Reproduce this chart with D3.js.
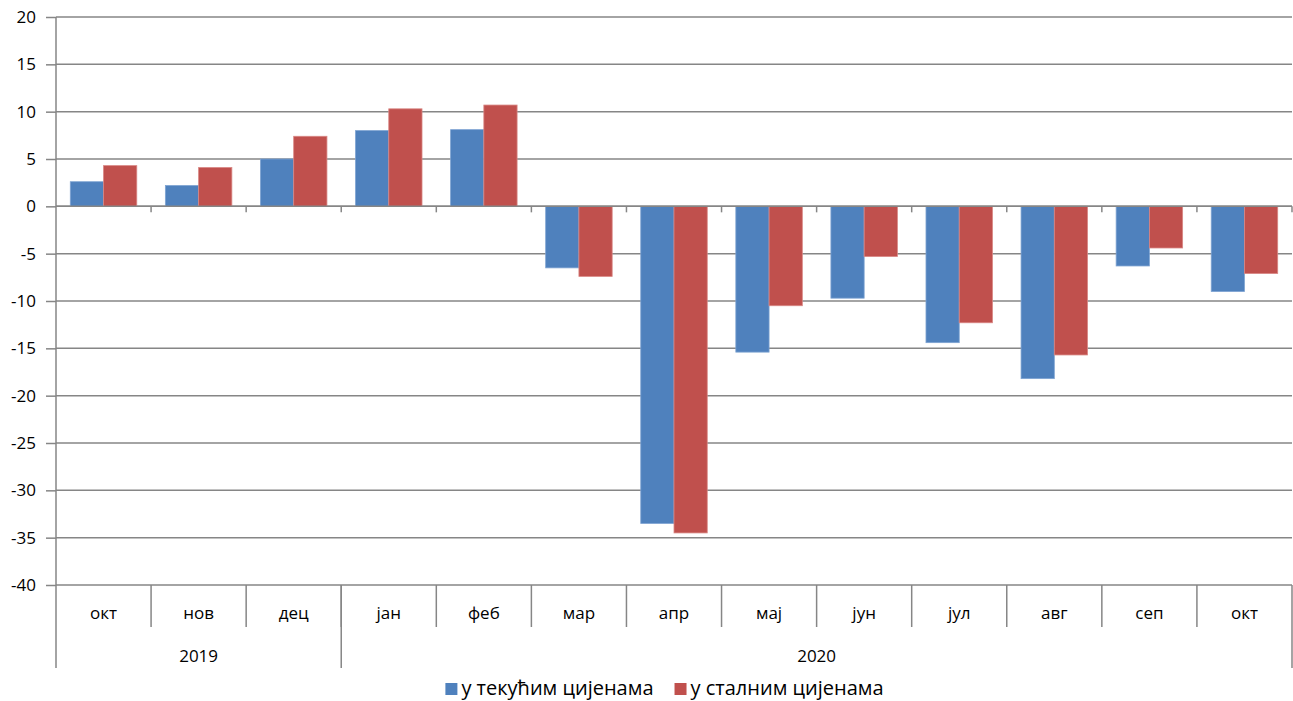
<!DOCTYPE html>
<html>
<head>
<meta charset="utf-8">
<script src="https://cdn.jsdelivr.net/npm/d3@7"></script>
<style>
  html, body { margin: 0; padding: 0; background: #fff; }
  svg { display: block; }
  text { font-family: "Open Sans", "Noto Sans", sans-serif; fill: #000; }
</style>
</head>
<body>
<svg id="chart" width="1293" height="701"></svg>
<script>
const months = ["окт", "нов", "дец", "јан", "феб", "мар", "апр", "мај", "јун", "јул", "авг", "сеп", "окт"];
const years = ["2019", "2020"];
const yearSpans = [3, 10];
const seriesNames = ["у текућим цијенама", "у сталним цијенама"];
const currentPrices = [2.6, 2.2, 5.0, 8.0, 8.1, -6.5, -33.5, -15.4, -9.7, -14.4, -18.2, -6.3, -9.0];
const constantPrices = [4.3, 4.1, 7.4, 10.3, 10.7, -7.4, -34.5, -10.5, -5.3, -12.3, -15.7, -4.4, -7.1];
const yTicks = [20, 15, 10, 5, 0, -5, -10, -15, -20, -25, -30, -35, -40];
const colors = ["#4F81BD", "#C0504D"];

const svg = d3.select("#chart");
const mLeft = 56, mRight = 1292, mTop = 17, mBottom = 585;
const gridColor = "#868686";

const x = d3.scaleBand().domain(d3.range(months.length)).range([mLeft, mRight]);
const inner = d3.scaleBand().domain([0, 1]).range([0, x.bandwidth()]).paddingInner(0).paddingOuter(0.43);
const y = d3.scaleLinear().domain([-40, 20]).range([mBottom, mTop]);

// gridlines
svg.append("g").selectAll("line").data(yTicks).join("line")
  .attr("x1", mLeft).attr("x2", mRight)
  .attr("y1", d => y(d)).attr("y2", d => y(d))
  .attr("stroke", gridColor).attr("stroke-width", 1.5);

// y axis
const yAxis = d3.axisLeft(y).tickValues(yTicks).tickSize(10).tickPadding(8).tickFormat(d => String(d));
const yg = svg.append("g").attr("transform", `translate(${mLeft},0)`).call(yAxis);
yg.select(".domain").attr("stroke", gridColor).attr("stroke-width", 1.5).attr("d", `M0,${mTop}V${mBottom}`);
yg.selectAll(".tick line").attr("stroke", gridColor).attr("stroke-width", 1.5);
yg.selectAll(".tick text").style("font-size", "17px").attr("x", -20).style("font-family", "'Open Sans', sans-serif");

// bars
const series = [currentPrices, constantPrices];
series.forEach((vals, si) => {
  svg.append("g").selectAll("rect").data(vals).join("rect")
    .attr("x", (d, i) => x(i) + inner(si))
    .attr("width", inner.bandwidth())
    .attr("y", d => y(Math.max(0, d)))
    .attr("height", d => Math.abs(y(d) - y(0)))
    .attr("fill", colors[si])
    .attr("stroke", si === 0 ? "#7EA3D2" : "#D98784")
    .attr("stroke-width", 0.8);
});

// zero axis with ticks at category boundaries
svg.append("line").attr("x1", mLeft).attr("x2", mRight)
  .attr("y1", y(0)).attr("y2", y(0)).attr("stroke", gridColor).attr("stroke-width", 1.5);
svg.append("g").selectAll("line").data(d3.range(1, months.length + 1)).join("line")
  .attr("x1", i => x.step() * i + mLeft).attr("x2", i => x.step() * i + mLeft)
  .attr("y1", y(0)).attr("y2", y(0) + 6)
  .attr("stroke", gridColor).attr("stroke-width", 1.5);

// category labels (bottom)
const row1 = 627, row2 = 668;
svg.append("g").selectAll("line").data(d3.range(1, months.length)).join("line")
  .attr("x1", i => mLeft + x.step() * i).attr("x2", i => mLeft + x.step() * i)
  .attr("y1", mBottom).attr("y2", row1)
  .attr("stroke", gridColor).attr("stroke-width", 1.5);
svg.append("g").selectAll("text").data(months).join("text")
  .attr("x", (d, i) => x(i) + x.bandwidth() / 2)
  .attr("y", 613).attr("dy", "0.35em")
  .attr("text-anchor", "middle").style("font-size", "17px").text(d => d);

// year separators and labels
let acc = 0;
const yearBounds = [0];
yearSpans.forEach(s => { acc += s; yearBounds.push(acc); });
svg.append("g").selectAll("line").data(yearBounds).join("line")
  .attr("x1", i => mLeft + x.step() * i).attr("x2", i => mLeft + x.step() * i)
  .attr("y1", mBottom).attr("y2", row2)
  .attr("stroke", gridColor).attr("stroke-width", 1.5);
svg.append("g").selectAll("text").data(years).join("text")
  .attr("x", (d, i) => mLeft + x.step() * (yearBounds[i] + yearBounds[i + 1]) / 2)
  .attr("y", 656).attr("dy", "0.35em")
  .attr("text-anchor", "middle").style("font-size", "17px").text(d => d);

// legend
const legend = svg.append("g");
const items = legend.selectAll("g").data(seriesNames).join("g");
items.append("rect").attr("width", 12).attr("height", 12).attr("y", -5).attr("fill", (d, i) => colors[i]);
items.append("text").attr("x", 16).attr("dy", "0.35em").style("font-size", "20px").text(d => d);
let lx = 0;
items.each(function () {
  const g = d3.select(this);
  g.attr("transform", `translate(${lx},0)`);
  lx += this.getBBox().width + 21;
});
const totalW = lx - 21;
legend.attr("transform", `translate(${(432 + 897) / 2 - totalW / 2},688)`);
</script>
</body>
</html>
